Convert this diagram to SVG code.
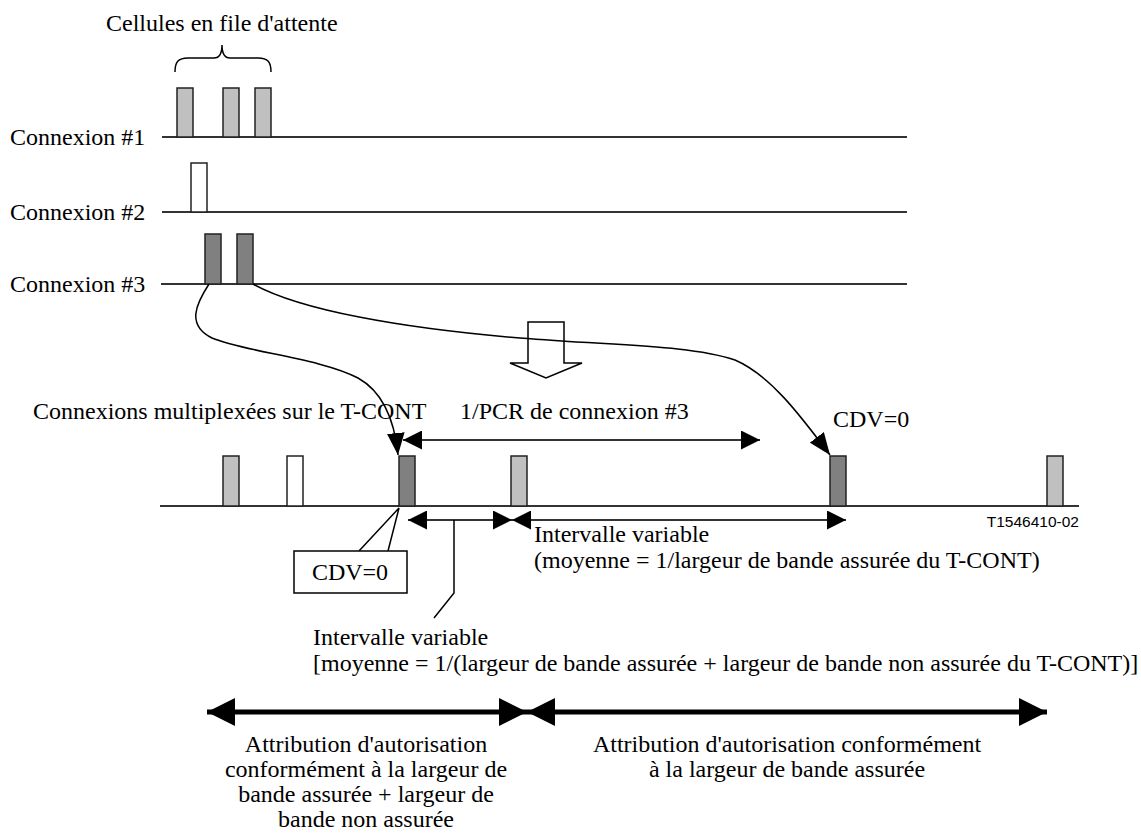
<svg xmlns="http://www.w3.org/2000/svg" width="1141" height="834" viewBox="0 0 1141 834">
  <style>
    text { font-family: "Liberation Serif", "Times New Roman", serif; font-size: 24px; fill: #000; }
    .tag { font-family: "Liberation Sans", Arial, sans-serif; font-size: 15.5px; }
    .mid { text-anchor: middle; }
    .axis { stroke: #333; stroke-width: 2; fill: none; }
    .cell { stroke: #222; stroke-width: 1.5; }
    .light { fill: #c0c0c0; }
    .dark { fill: #808080; }
    .empty { fill: #fff; }
    .wire { stroke: #000; stroke-width: 1.5; fill: none; }
    .dim { stroke: #333; stroke-width: 2; fill: none; }
    .bold { stroke: #000; stroke-width: 5; fill: none; }
  </style>
  <defs>
    <marker id="head" viewBox="0 0 20 20" refX="20" refY="10" markerWidth="20" markerHeight="19" markerUnits="userSpaceOnUse" orient="auto-start-reverse">
      <path d="M0,0 L20,10 L0,20 Z" fill="#000"/>
    </marker>
    <marker id="curveHead" viewBox="0 0 20 16" refX="20" refY="8" markerWidth="22" markerHeight="18" markerUnits="userSpaceOnUse" orient="auto">
      <path d="M0,0 L20,8 L0,16 Z" fill="#000"/>
    </marker>
    <marker id="bigHead" viewBox="0 0 28 28" refX="28" refY="14" markerWidth="28" markerHeight="28" markerUnits="userSpaceOnUse" orient="auto-start-reverse">
      <path d="M0,0 L28,14 L0,28 Z" fill="#000"/>
    </marker>
  </defs>

  <!-- queued cells caption with brace -->
  <g id="queue-caption">
    <text x="106" y="31">Cellules en file d'attente</text>
    <path class="wire" d="M175,72 C175,62 178,58 188,58 L214,58 C219,58 222,54 222,45 C222,54 225,58 230,58 L258,58 C268,58 271,62 271,72"/>
  </g>

  <!-- connection 1 -->
  <g id="conn1">
    <text x="10" y="145">Connexion #1</text>
    <line class="axis" x1="162" y1="137" x2="907" y2="137"/>
    <rect class="cell light" x="177" y="88" width="16" height="49"/>
    <rect class="cell light" x="223" y="88" width="16" height="49"/>
    <rect class="cell light" x="255" y="88" width="16" height="49"/>
  </g>

  <!-- connection 2 -->
  <g id="conn2">
    <text x="10" y="220">Connexion #2</text>
    <line class="axis" x1="162" y1="212" x2="907" y2="212"/>
    <rect class="cell empty" x="191" y="163" width="16" height="49"/>
  </g>

  <!-- connection 3 -->
  <g id="conn3">
    <text x="10" y="292">Connexion #3</text>
    <line class="axis" x1="161" y1="284" x2="907" y2="284"/>
    <rect class="cell dark" x="205" y="234" width="16" height="50"/>
    <rect class="cell dark" x="237" y="234" width="16" height="50"/>
  </g>

  <!-- multiplexing step arrow -->
  <g id="mux-arrow">
    <path d="M528,322 H564 V363 H582 L546,378 L510,363 H528 Z" fill="#fff" stroke="#000" stroke-width="1.5"/>
  </g>

  <!-- multiplexed T-CONT stream -->
  <g id="tcont">
    <rect x="30" y="399" width="402" height="28" fill="#fff"/>
    <text x="33" y="419">Connexions multiplexées sur le T-CONT</text>
    <line class="axis" x1="160" y1="506" x2="1079" y2="506"/>
    <rect class="cell light" x="223" y="456" width="16" height="50"/>
    <rect class="cell empty" x="287" y="456" width="16" height="50"/>
    <rect class="cell dark" x="399" y="456" width="16" height="50"/>
    <rect class="cell light" x="511" y="456" width="16" height="50"/>
    <rect class="cell dark" x="830" y="456" width="16" height="50"/>
    <rect class="cell light" x="1047" y="456" width="16" height="50"/>
    <text class="tag" x="1079" y="527" text-anchor="end">T1546410-02</text>
  </g>

  <!-- peak cell rate label -->
  <g id="pcr">
    <text x="460" y="419">1/PCR de connexion #3</text>
  </g>

  <g id="cdv-right">
    <text x="833" y="427">CDV=0</text>
  </g>

  <!-- callout for first cell -->
  <g id="cdv-callout">
    <path d="M359,551 L399,508 L388,551" fill="#fff" stroke="#000" stroke-width="1.5"/>
    <rect x="294" y="551" width="113" height="42" fill="#fff" stroke="#000" stroke-width="1.5"/>
    <text class="mid" x="350" y="580">CDV=0</text>
  </g>

  <g id="interval-guaranteed">
    <text x="534" y="542">Intervalle variable</text>
    <text x="534" y="568">(moyenne = 1/largeur de bande assurée du T-CONT)</text>
  </g>

  <g id="interval-total">
    <text x="313" y="645">Intervalle variable</text>
    <text x="313" y="671">[moyenne = 1/(largeur de bande assurée + largeur de bande non assurée du T-CONT)]</text>
  </g>

  <g id="grant-left">
    <text class="mid" x="366" y="752">Attribution d'autorisation</text>
    <text class="mid" x="366" y="777">conformément à la largeur de</text>
    <text class="mid" x="366" y="802">bande assurée + largeur de</text>
    <text class="mid" x="366" y="827">bande non assurée</text>
  </g>

  <g id="grant-right">
    <text class="mid" x="787" y="752">Attribution d'autorisation conformément</text>
    <text class="mid" x="787" y="777">à la largeur de bande assurée</text>
  </g>

  <!-- connectors -->
  <g id="connectors">
    <path class="wire" d="M209,284 C196,304 186,325 212,338 C245,352 320,358 358,378 C385,393 395,425 398,455" marker-end="url(#curveHead)"/>
    <path class="wire" d="M253,284 C300,310 400,328 520,338 C620,346 690,345 735,360 C770,375 800,415 830,455" marker-end="url(#curveHead)"/>
    <line class="dim" x1="403" y1="440" x2="760" y2="440" marker-start="url(#head)" marker-end="url(#head)"/>
    <line class="dim" x1="408" y1="520" x2="512" y2="520" marker-start="url(#head)" marker-end="url(#head)"/>
    <line class="dim" x1="512" y1="520" x2="846" y2="520" marker-start="url(#head)" marker-end="url(#head)"/>
    <path class="wire" d="M454,520 V593 L434,618"/>
    <line class="bold" x1="207" y1="712" x2="527" y2="712" marker-start="url(#bigHead)" marker-end="url(#bigHead)"/>
    <line class="bold" x1="527" y1="712" x2="1047" y2="712" marker-start="url(#bigHead)" marker-end="url(#bigHead)"/>
  </g>
</svg>
